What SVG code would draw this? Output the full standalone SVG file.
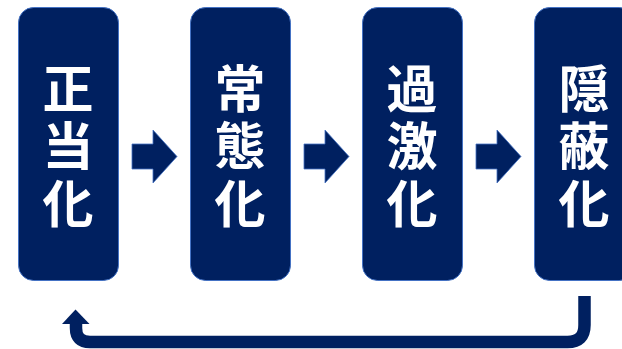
<svg xmlns="http://www.w3.org/2000/svg" width="622" height="349" viewBox="0 0 622 349">
<style>
.box{fill:#002060;stroke:#4472C4;stroke-width:1}
.t{fill:#ffffff;font-family:"Noto Sans CJK JP","Noto Sans CJK SC",sans-serif;font-weight:bold;font-size:51px;text-anchor:middle}
.arr{fill:#002060;stroke:#4472C4;stroke-width:0.8}
.ret{fill:none;stroke:#002060;stroke-width:12.5}
</style>
<rect width="622" height="349" fill="#ffffff"/>
<g id="node1">
<rect class="box" x="18.5" y="7.5" width="100" height="273" rx="15"/>
<text class="t" x="68" y="108">正</text>
<text class="t" x="68" y="165">当</text>
<text class="t" x="68" y="223">化</text>
</g>
<g id="node2">
<rect class="box" x="190.5" y="7.5" width="100" height="273" rx="15"/>
<text class="t" x="240" y="108">常</text>
<text class="t" x="240" y="165">態</text>
<text class="t" x="240" y="223">化</text>
</g>
<g id="node3">
<rect class="box" x="362.5" y="7.5" width="100" height="273" rx="15"/>
<text class="t" x="412" y="108">過</text>
<text class="t" x="412" y="165">激</text>
<text class="t" x="412" y="223">化</text>
</g>
<g id="node4">
<rect class="box" x="534.5" y="7.5" width="100" height="273" rx="15"/>
<text class="t" x="584" y="108">隠</text>
<text class="t" x="584" y="165">蔽</text>
<text class="t" x="584" y="223">化</text>
</g>
<g id="connectors">
<path class="arr" d="M132,144 H153 V130 L177,156.5 L153,183 V169 H132 Z"/>
<path class="arr" d="M304,144 H325 V130 L349,156.5 L325,183 V169 H304 Z"/>
<path class="arr" d="M476,144 H497 V130 L521,156.5 L497,183 V169 H476 Z"/>
<path class="ret" d="M584.5,296 V325 Q584.5,342 567.5,342 H90 Q76,342 76,328 V322"/>
<path fill="#002060" d="M62,324 L75.5,309.5 L89.5,324 Z"/>
</g>
</svg>
